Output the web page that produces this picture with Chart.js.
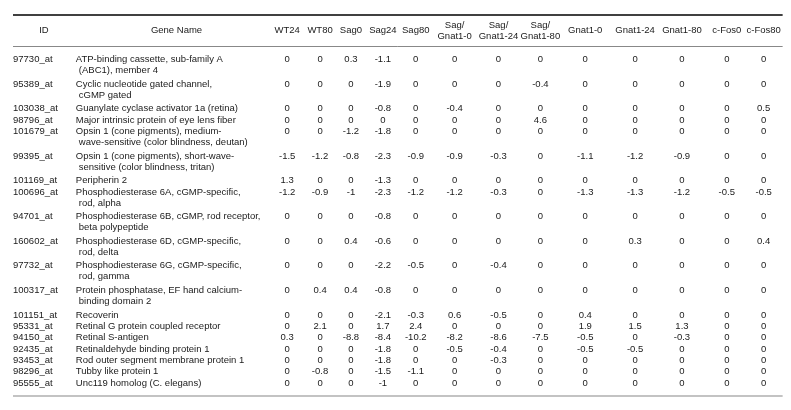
<!DOCTYPE html>
<html>
<head>
<meta charset="utf-8">
<script src="https://cdn.jsdelivr.net/npm/chart.js@4.4.1/dist/chart.umd.min.js"></script>
<style>
  html, body { margin: 0; padding: 0; background: #fff; }
  #wrap { width: 791px; height: 410px; }
</style>
</head>
<body>
<div id="wrap"><canvas id="geneTable"></canvas></div>
<script>
var columnLabels = [['ID'], ['Gene Name'], ['WT24'], ['WT80'], ['Sag0'], ['Sag24'], ['Sag80'],
    ['Sag/', 'Gnat1-0'], ['Sag/', 'Gnat1-24'], ['Sag/', 'Gnat1-80'],
    ['Gnat1-0'], ['Gnat1-24'], ['Gnat1-80'], ['c-Fos0'], ['c-Fos80']]

var probeIds = ['97730_at', '95389_at', '103038_at', '98796_at', '101679_at', '99395_at', '101169_at',
    '100696_at', '94701_at', '160602_at', '97732_at', '100317_at', '101151_at', '95331_at',
    '94150_at', '92435_at', '93453_at', '98296_at', '95555_at']

var geneNames = [
    ['ATP-binding cassette, sub-family A', '(ABC1), member 4'],
    ['Cyclic nucleotide gated channel,', 'cGMP gated'],
    ['Guanylate cyclase activator 1a (retina)'],
    ['Major intrinsic protein of eye lens fiber'],
    ['Opsin 1 (cone pigments), medium-', 'wave-sensitive (color blindness, deutan)'],
    ['Opsin 1 (cone pigments), short-wave-', 'sensitive (color blindness, tritan)'],
    ['Peripherin 2'],
    ['Phosphodiesterase 6A, cGMP-specific,', 'rod, alpha'],
    ['Phosphodiesterase 6B, cGMP, rod receptor,', 'beta polypeptide'],
    ['Phosphodiesterase 6D, cGMP-specific,', 'rod, delta'],
    ['Phosphodiesterase 6G, cGMP-specific,', 'rod, gamma'],
    ['Protein phosphatase, EF hand calcium-', 'binding domain 2'],
    ['Recoverin'],
    ['Retinal G protein coupled receptor'],
    ['Retinal S-antigen'],
    ['Retinaldehyde binding protein 1'],
    ['Rod outer segment membrane protein 1'],
    ['Tubby like protein 1'],
    ['Unc119 homolog (C. elegans)']
]

var wt24 = [0, 0, 0, 0, 0, -1.5, 1.3, -1.2, 0, 0, 0, 0, 0, 0, 0.3, 0, 0, 0, 0]
var wt80 = [0, 0, 0, 0, 0, -1.2, 0, -0.9, 0, 0, 0, 0.4, 0, 2.1, 0, 0, 0, -0.8, 0]
var sag0 = [0.3, 0, 0, 0, -1.2, -0.8, 0, -1, 0, 0.4, 0, 0.4, 0, 0, -8.8, 0, 0, 0, 0]
var sag24 = [-1.1, -1.9, -0.8, 0, -1.8, -2.3, -1.3, -2.3, -0.8, -0.6, -2.2, -0.8, -2.1, 1.7, -8.4, -1.8, -1.8, -1.5, -1]
var sag80 = [0, 0, 0, 0, 0, -0.9, 0, -1.2, 0, 0, -0.5, 0, -0.3, 2.4, -10.2, 0, 0, -1.1, 0]
var sagGnat0 = [0, 0, -0.4, 0, 0, -0.9, 0, -1.2, 0, 0, 0, 0, 0.6, 0, -8.2, -0.5, 0, 0, 0]
var sagGnat24 = [0, 0, 0, 0, 0, -0.3, 0, -0.3, 0, 0, -0.4, 0, -0.5, 0, -8.6, -0.4, -0.3, 0, 0]
var sagGnat80 = [0, -0.4, 0, 4.6, 0, 0, 0, 0, 0, 0, 0, 0, 0, 0, -7.5, 0, 0, 0, 0]
var gnat0 = [0, 0, 0, 0, 0, -1.1, 0, -1.3, 0, 0, 0, 0, 0.4, 1.9, -0.5, -0.5, 0, 0, 0]
var gnat24 = [0, 0, 0, 0, 0, -1.2, 0, -1.3, 0, 0.3, 0, 0, 0, 1.5, 0, -0.5, 0, 0, 0]
var gnat80 = [0, 0, 0, 0, 0, -0.9, 0, -1.2, 0, 0, 0, 0, 0, 1.3, -0.3, 0, 0, 0, 0]
var cFos0 = [0, 0, 0, 0, 0, 0, 0, -0.5, 0, 0, 0, 0, 0, 0, 0, 0, 0, 0, 0]
var cFos80 = [0, 0, 0.5, 0, 0, 0, 0, -0.5, 0, 0.4, 0, 0, 0, 0, 0, 0, 0, 0, 0]

var seriesValues = [wt24, wt80, sag0, sag24, sag80, sagGnat0, sagGnat24, sagGnat80,
    gnat0, gnat24, gnat80, cFos0, cFos80]

// layout: x in px from the table's left edge, y in px from the first row
var headerCenters = [31, 164, 275, 308, 339, 371, 404, 443, 487, 529, 574, 624, 671, 716, 753]
var idAnchor = 0
var nameAnchor = 63
var nameIndent = 3
var lineStep = 11.3
var rowGap = 1.9
var textLine = 11
var cellFont = '9.5px "Liberation Sans", Arial, sans-serif'

var rowY = []
var yPos = 0
geneNames.forEach(function (name) {
    rowY.push(yPos)
    yPos += name.length * lineStep + (name.length > 1 ? rowGap : 0)
})
var lastRow = rowY[rowY.length - 1]

function cellPoints(x) {
    return rowY.map(function (y) { return { x: x, y: y } })
}

var datasets = [
    { data: cellPoints(idAnchor), texts: probeIds.map(function (t) { return [t] }), textAlign: 'left' },
    { data: cellPoints(nameAnchor), texts: geneNames, textAlign: 'left' }
]
seriesValues.forEach(function (vals, j) {
    datasets.push({
        data: cellPoints(headerCenters[j + 2]),
        texts: vals.map(function (v) { return [String(v)] }),
        textAlign: 'center'
    })
})
datasets.forEach(function (ds) {
    ds.pointRadius = 0
    ds.pointHoverRadius = 0
    ds.showLine = false
})

var cellText = {
    id: 'cellText',
    afterDatasetsDraw: function (chart) {
        var ctx = chart.ctx
        ctx.save()
        ctx.fillStyle = '#1a1a1a'
        ctx.font = cellFont
        ctx.textBaseline = 'middle'
        chart.data.datasets.forEach(function (ds, di) {
            var meta = chart.getDatasetMeta(di)
            ctx.textAlign = ds.textAlign
            meta.data.forEach(function (pt, i) {
                ds.texts[i].forEach(function (line, k) {
                    ctx.fillText(line, pt.x + (k > 0 ? nameIndent : 0), pt.y + k * textLine)
                })
            })
        })
        ctx.restore()
    }
}

var tableRules = {
    id: 'tableRules',
    afterDraw: function (chart) {
        var ctx = chart.ctx
        var x = chart.scales.x
        var area = chart.chartArea
        ctx.save()
        ctx.strokeStyle = '#000'
        ctx.lineWidth = 1.3
        ctx.beginPath()
        ctx.moveTo(area.left, x.top)
        ctx.lineTo(area.right, x.top)
        ctx.stroke()
        ctx.strokeStyle = '#888'
        ctx.lineWidth = 1
        ctx.beginPath()
        ctx.moveTo(area.left, area.top + 0.5)
        ctx.lineTo(area.right, area.top + 0.5)
        ctx.stroke()
        ctx.lineWidth = 1.2
        ctx.beginPath()
        ctx.moveTo(area.left, area.bottom)
        ctx.lineTo(area.right, area.bottom)
        ctx.stroke()
        ctx.restore()
    }
}

Chart.defaults.font.family = '"Liberation Sans", Arial, sans-serif'
Chart.defaults.font.size = 9.5
Chart.defaults.color = '#1a1a1a'

new Chart(document.getElementById('geneTable').getContext('2d'), {
    type: 'scatter',
    data: { datasets: datasets },
    options: {
        responsive: true,
        maintainAspectRatio: false,
        animation: false,
        events: [],
        layout: { padding: { left: 13, right: 6, top: 15, bottom: 14 } },
        plugins: { legend: { display: false }, tooltip: { enabled: false } },
        scales: {
            x: {
                type: 'linear',
                position: 'top',
                min: 0,
                max: 772,
                grid: { display: false, drawTicks: false },
                border: { display: false },
                afterBuildTicks: function (scale) {
                    scale.ticks = headerCenters.map(function (v) { return { value: v } })
                },
                afterFit: function (scale) { scale.height = 31 },
                ticks: {
                    autoSkip: false,
                    maxRotation: 0,
                    minRotation: 0,
                    padding: 10,
                    crossAlign: 'center',
                    font: { lineHeight: 1.15 },
                    callback: function (value, index) { return columnLabels[index] }
                }
            },
            y: {
                type: 'linear',
                display: false,
                reverse: true,
                min: -13.5,
                max: lastRow + 13
            }
        }
    },
    plugins: [tableRules, cellText]
})
</script>
</body>
</html>
